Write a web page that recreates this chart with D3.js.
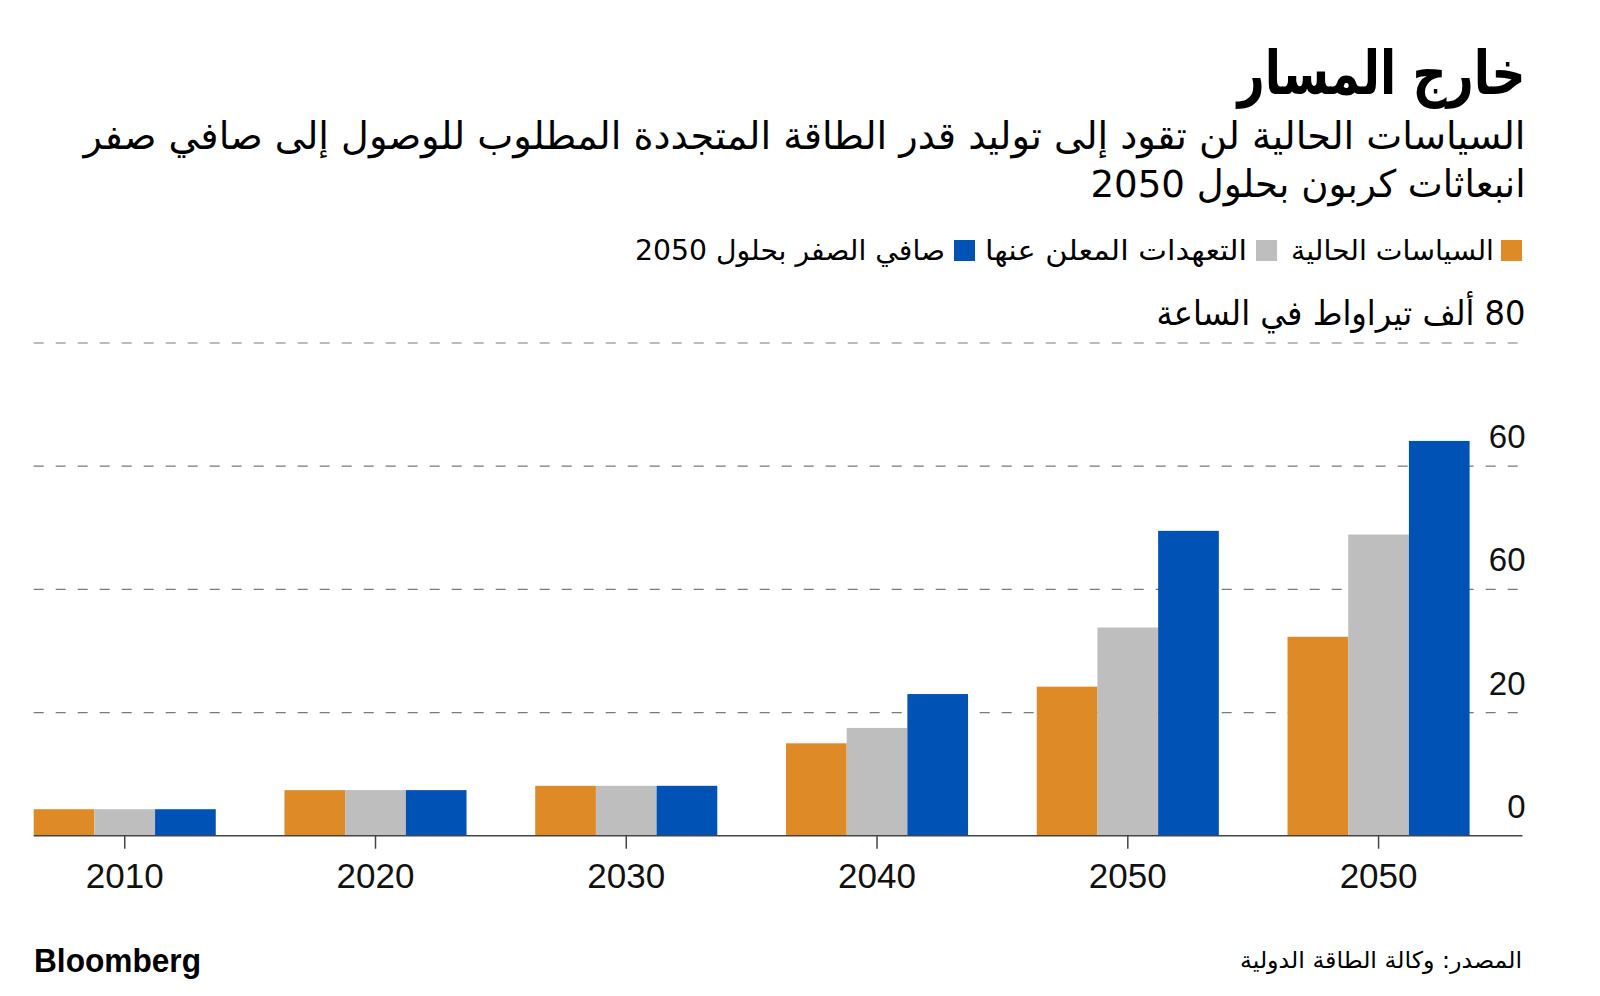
<!DOCTYPE html>
<html lang="ar">
<head>
<meta charset="utf-8">
<script src="https://cdn.jsdelivr.net/npm/d3@7"></script>
<style>
  html, body { margin: 0; padding: 0; background: #ffffff; }
  svg { display: block; }
  .ar { font-family: "DejaVu Sans Condensed", "DejaVu Sans", sans-serif; }
  .lat { font-family: "Liberation Sans", Arial, Helvetica, sans-serif; }
</style>
</head>
<body>
<svg id="chart" width="1600" height="996"></svg>
<script>
// ---------- data ----------
const categories = ["2010", "2020", "2030", "2040", "2050", "2050"];
const seriesNames = ["السياسات الحالية", "التعهدات المعلن عنها", "صافي الصفر بحلول 2050"];
const currentPolicies = [4.3, 7.4, 8.1, 15.0, 24.2, 32.3];
const announcedPledges = [4.3, 7.4, 8.1, 17.5, 33.8, 48.9];
const netZero2050 = [4.3, 7.4, 8.1, 23.0, 49.5, 64.1];
const yTickValues = [0, 20, 40, 60];
const yTickLabels = ["0", "20", "60", "60"];
const unitLabel = "80 ألف تيراواط في الساعة";
const titleText = "خارج المسار";
const subtitleLines = [
  "السياسات الحالية لن تقود إلى توليد قدر الطاقة المتجددة المطلوب للوصول إلى صافي صفر",
  "انبعاثات كربون بحلول 2050"
];
const sourceText = "المصدر: وكالة الطاقة الدولية";
const colors = ["#DD8A27", "#BEBEBE", "#0052B5"];

// ---------- layout ----------
const svg = d3.select("#chart");
const right = 1525.5;
const left = 33.7;
const baseY = 835.7;
const topY = 343;

const seriesValues = [currentPolicies, announcedPledges, netZero2050];
const rows = categories.map((c, i) => ({ idx: i, cat: c, vals: seriesValues.map(s => s[i]) }));

const x0 = d3.scaleBand().domain(d3.range(categories.length)).range([left, 1469.6]).paddingInner(0.274).paddingOuter(0);
const x1 = d3.scaleBand().domain(d3.range(seriesNames.length)).range([0, x0.bandwidth()]).padding(0);
const y = d3.scaleLinear().domain([0, 80]).range([baseY, topY]);

// ---------- titles ----------
svg.append("text").attr("class", "ar")
  .attr("x", right).attr("y", 94)
  .attr("text-anchor", "end")
  .attr("font-size", 60).attr("font-weight", "bold").attr("fill", "#000")
  .attr("textLength", 288).attr("lengthAdjust", "spacingAndGlyphs")
  .text(titleText);

const subLens = [1442, 435];
const subY = [149, 197];
subtitleLines.forEach((t, i) => {
  svg.append("text").attr("class", "ar")
    .attr("x", right).attr("y", subY[i])
    .attr("text-anchor", "end")
    .attr("font-size", 38).attr("fill", "#000")
    .attr("textLength", subLens[i]).attr("lengthAdjust", "spacingAndGlyphs")
    .text(t);
});

// ---------- legend ----------
const legendSw = [1501, 1256, 954];
const legendTextRight = [1494, 1247, 945];
const legendLens = [203, 262, 310];
seriesNames.forEach((n, i) => {
  svg.append("rect").attr("x", legendSw[i]).attr("y", 240).attr("width", 21).attr("height", 21).attr("fill", colors[i]);
  svg.append("text").attr("class", "ar")
    .attr("x", legendTextRight[i]).attr("y", 260)
    .attr("text-anchor", "end")
    .attr("font-size", 28).attr("fill", "#000")
    .attr("textLength", legendLens[i]).attr("lengthAdjust", "spacingAndGlyphs")
    .text(n);
});

// ---------- unit label (right-to-left base direction) ----------
svg.append("text").attr("class", "ar")
  .attr("x", right).attr("y", 325)
  .attr("direction", "rtl").attr("unicode-bidi", "embed")
  .attr("text-anchor", "start")
  .attr("font-size", 34).attr("fill", "#000")
  .attr("textLength", 369).attr("lengthAdjust", "spacingAndGlyphs")
  .text(unitLabel);

// ---------- gridlines ----------
const gridEnd = 1522.5;
svg.append("g").selectAll("line")
  .data(yTickValues.slice(1).concat([80]))
  .join("line")
  .attr("x1", left).attr("x2", gridEnd)
  .attr("y1", d => y(d)).attr("y2", d => y(d))
  .attr("stroke", "#7a7a7a").attr("stroke-width", 1.2)
  .attr("stroke-dasharray", "10,12");

// ---------- bars ----------
const g = svg.append("g");
const groups = g.selectAll("g.grp").data(rows).join("g")
  .attr("class", "grp")
  .attr("transform", d => `translate(${x0(d.idx)},0)`);
groups.selectAll("rect").data(d => d.vals.map((v, k) => ({ k, v }))).join("rect")
  .attr("x", d => x1(d.k))
  .attr("width", x1.bandwidth())
  .attr("y", d => y(d.v))
  .attr("height", d => y(0) - y(d.v))
  .attr("fill", d => colors[d.k]);

// ---------- y tick labels ----------
svg.append("g").selectAll("text").data(yTickValues).join("text")
  .attr("class", "lat")
  .attr("x", right).attr("y", d => y(d) - 18)
  .attr("text-anchor", "end")
  .attr("font-size", 33).attr("fill", "#111")
  .text((d, i) => yTickLabels[i]);

// ---------- x axis ----------
svg.append("line").attr("x1", left).attr("x2", gridEnd)
  .attr("y1", baseY).attr("y2", baseY)
  .attr("stroke", "#444").attr("stroke-width", 1.5);

const xAxis = d3.axisBottom(x0.copy())
  .tickSize(13).tickPadding(14).tickFormat(i => categories[i]);
const ax = svg.append("g").attr("transform", `translate(0,${baseY})`).call(xAxis);
ax.select(".domain").remove();
ax.selectAll(".tick line").attr("stroke", "#444").attr("stroke-width", 1.5);
ax.selectAll(".tick text").attr("class", "lat").attr("font-size", 35).attr("fill", "#111")
  .attr("font-family", "Liberation Sans, Arial, sans-serif");

// ---------- footer ----------
svg.append("text").attr("class", "lat")
  .attr("x", 34).attr("y", 972)
  .attr("font-size", 33).attr("font-weight", "bold").attr("fill", "#000")
  .attr("textLength", 167).attr("lengthAdjust", "spacingAndGlyphs")
  .text("Bloomberg");

svg.append("text").attr("class", "ar")
  .attr("x", 1522).attr("y", 968)
  .attr("text-anchor", "end")
  .attr("font-size", 23).attr("fill", "#000")
  .attr("textLength", 282).attr("lengthAdjust", "spacingAndGlyphs")
  .text(sourceText);
</script>
</body>
</html>
